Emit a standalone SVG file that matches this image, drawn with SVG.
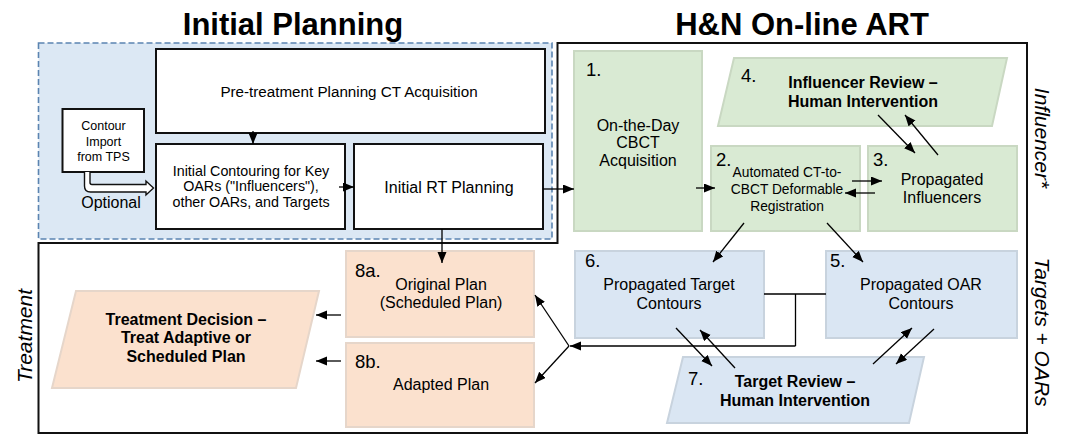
<svg xmlns="http://www.w3.org/2000/svg" width="1067" height="435" viewBox="0 0 1067 435">
  <defs>
    <marker id="arrow" markerUnits="userSpaceOnUse" markerWidth="12" markerHeight="10" refX="11" refY="4.5" orient="auto">
      <path d="M0,0 L11,4.5 L0,9 z" fill="#000"/>
    </marker>
    <style>
      text { font-family: "Liberation Sans", Arial, sans-serif; fill: #000; }
      .title { font-size: 31px; font-weight: bold; text-anchor: middle; }
      .t { font-size: 16px; text-anchor: middle; }
      .ts { font-size: 14.3px; text-anchor: middle; }
      .tb { font-size: 16px; font-weight: bold; text-anchor: middle; }
      .num { font-size: 18.5px; }
      .side { font-size: 21px; font-style: italic; text-anchor: middle; }
      .plain { fill: #fff; stroke: #111; stroke-width: 2; }
      .green { fill: #d9ead3; stroke: #c9d8c2; stroke-width: 2; }
      .blue { fill: #dae6f3; stroke: #c8d3de; stroke-width: 2; }
      .peach { fill: #fbe1ce; stroke: #e6d6ca; stroke-width: 2; }
      .conn { fill: none; stroke: #000; stroke-width: 1.3; }
      .arr { marker-end: url(#arrow); }
    </style>
  </defs>

  <!-- section titles -->
  <text class="title" x="293" y="35">Initial Planning</text>
  <text class="title" x="802" y="35">H&amp;N On-line ART</text>

  <!-- initial planning region (dashed) -->
  <rect id="planning-region" x="38.5" y="43" width="513.5" height="196" fill="#dce8f4" stroke="#5b84b1" stroke-width="1.6" stroke-dasharray="6,3"/>

  <!-- outer outline of on-line ART + treatment regions -->
  <path id="art-region" d="M557.5,43 H1027 V433 H38.5 V243 H557.5 Z" fill="none" stroke="#111" stroke-width="2"/>

  <!-- side labels -->
  <text class="side" transform="translate(1042,138) rotate(90)" y="7">Influencer*</text>
  <text class="side" transform="translate(1042,332) rotate(90)" y="7">Targets + OARs</text>
  <text class="side" transform="translate(25,336) rotate(-90)" y="7">Treatment</text>

  <g id="ct-acquisition">
    <rect class="plain" x="156" y="49" width="389" height="84"/>
    <text x="349" y="97" style="font-size:15.2px;text-anchor:middle">Pre-treatment Planning CT Acquisition</text>
  </g>

  <g id="contour-import">
    <rect class="plain" x="62.5" y="109" width="81.5" height="63"/>
    <text x="103.5" y="130" style="font-size:12.5px;text-anchor:middle">Contour</text>
    <text x="103.5" y="145.5" style="font-size:12.5px;text-anchor:middle">Import</text>
    <text x="103.5" y="160.5" style="font-size:12.5px;text-anchor:middle">from TPS</text>
  </g>

  <g id="initial-contouring">
    <rect class="plain" x="156" y="144" width="189" height="85"/>
    <text class="ts" x="251" y="175.5">Initial Contouring for Key</text>
    <text class="ts" x="251" y="191">OARs ("Influencers"),</text>
    <text class="ts" x="251" y="206.5">other OARs, and Targets</text>
  </g>

  <g id="rt-planning">
    <rect class="plain" x="354" y="144" width="189" height="85"/>
    <text class="t" x="449" y="193">Initial RT Planning</text>
  </g>

  <g id="cbct-acquisition">
    <rect class="green" x="574" y="51" width="128" height="180"/>
    <text class="num" x="586" y="76">1.</text>
    <text class="t" x="638" y="131">On-the-Day</text>
    <text class="t" x="638" y="148">CBCT</text>
    <text class="t" x="638" y="166">Acquisition</text>
  </g>

  <g id="influencer-review">
    <polygon class="green" points="734,58 1007,58 992,126 718,126"/>
    <text class="num" x="741" y="82">4.</text>
    <text class="tb" x="863" y="88">Influencer Review –</text>
    <text class="tb" x="863" y="107">Human Intervention</text>
  </g>

  <g id="deformable-registration">
    <rect class="green" x="711" y="146" width="149" height="85"/>
    <text class="num" x="716" y="166">2.</text>
    <text x="787" y="177" style="font-size:13.8px;text-anchor:middle">Automated CT-to-</text>
    <text x="787" y="194" style="font-size:13.8px;text-anchor:middle">CBCT Deformable</text>
    <text x="787" y="211" style="font-size:13.8px;text-anchor:middle">Registration</text>
  </g>

  <g id="propagated-influencers">
    <rect class="green" x="868" y="146" width="149" height="85"/>
    <text class="num" x="873" y="166">3.</text>
    <text class="t" x="942" y="185">Propagated</text>
    <text class="t" x="942" y="203">Influencers</text>
  </g>

  <g id="propagated-targets">
    <rect class="blue" x="575" y="251" width="189" height="87"/>
    <text class="num" x="585" y="267">6.</text>
    <text class="t" x="669" y="290">Propagated Target</text>
    <text class="t" x="669" y="309">Contours</text>
  </g>

  <g id="propagated-oars">
    <rect class="blue" x="826" y="251" width="191" height="87"/>
    <text class="num" x="830" y="267">5.</text>
    <text class="t" x="921" y="290">Propagated OAR</text>
    <text class="t" x="921" y="309">Contours</text>
  </g>

  <g id="target-review">
    <polygon class="blue" points="683,357 924,357 909,423 667,423"/>
    <text class="num" x="688" y="385">7.</text>
    <text class="tb" x="795" y="387">Target Review –</text>
    <text class="tb" x="795" y="406">Human Intervention</text>
  </g>

  <g id="original-plan">
    <rect class="peach" x="346" y="251" width="188" height="86"/>
    <text class="num" x="355" y="277">8a.</text>
    <text class="t" x="441" y="290">Original Plan</text>
    <text class="t" x="441" y="308">(Scheduled Plan)</text>
  </g>

  <g id="adapted-plan">
    <rect class="peach" x="346" y="343" width="188" height="84"/>
    <text class="num" x="355" y="368">8b.</text>
    <text class="t" x="441" y="390">Adapted Plan</text>
  </g>

  <g id="treatment-decision">
    <polygon class="peach" points="76,291 319,291 296,388 52,388"/>
    <text class="tb" x="186" y="325">Treatment Decision –</text>
    <text class="tb" x="186" y="343">Treat Adaptive or</text>
    <text class="tb" x="186" y="362">Scheduled Plan</text>
  </g>

  <g id="connectors">
    <!-- optional contour import: hollow block arrow -->
    <path d="M84.5,172 V186 Q84.5,192 90.5,192 H146 V195 L153.5,188 L146,181 V184.5 H92 Q90,184.5 90,182.5 V172" fill="#fff" stroke="#111" stroke-width="1.4" stroke-linejoin="miter"/>
    <text x="111" y="208" style="font-size:16px;text-anchor:middle">Optional</text>

    <line class="conn arr" x1="253" y1="131" x2="253" y2="144"/>
    <line class="conn arr" x1="339" y1="187" x2="354" y2="187"/>
    <line class="conn arr" x1="543" y1="189" x2="574" y2="189"/>
    <line class="conn arr" x1="442" y1="229" x2="442" y2="263"/>

    <line class="conn arr" x1="696" y1="188" x2="715" y2="188"/>
    <line class="conn arr" x1="852" y1="181" x2="882" y2="181"/>
    <line class="conn arr" x1="875" y1="193" x2="845" y2="193"/>
    <line class="conn arr" x1="878" y1="115" x2="915" y2="153"/>
    <line class="conn arr" x1="938" y1="155" x2="905" y2="115"/>

    <line class="conn arr" x1="744" y1="223" x2="713" y2="262"/>
    <line class="conn arr" x1="827" y1="223" x2="863" y2="262"/>

    <line class="conn arr" x1="676" y1="328" x2="712" y2="366"/>
    <line class="conn arr" x1="735" y1="368" x2="700" y2="330"/>
    <line class="conn arr" x1="873" y1="364" x2="912" y2="328"/>
    <line class="conn arr" x1="934" y1="329" x2="896" y2="364"/>

    <path class="conn" d="M764,294 H826 M795.5,294 V346"/>
    <path class="conn arr" d="M795.5,346 H570"/>
    <line class="conn arr" x1="569" y1="346" x2="535" y2="295"/>
    <line class="conn arr" x1="569" y1="346" x2="535" y2="383"/>

    <line class="conn arr" x1="341" y1="315" x2="316" y2="315"/>
    <line class="conn arr" x1="341" y1="361" x2="316" y2="361"/>
  </g>
</svg>
